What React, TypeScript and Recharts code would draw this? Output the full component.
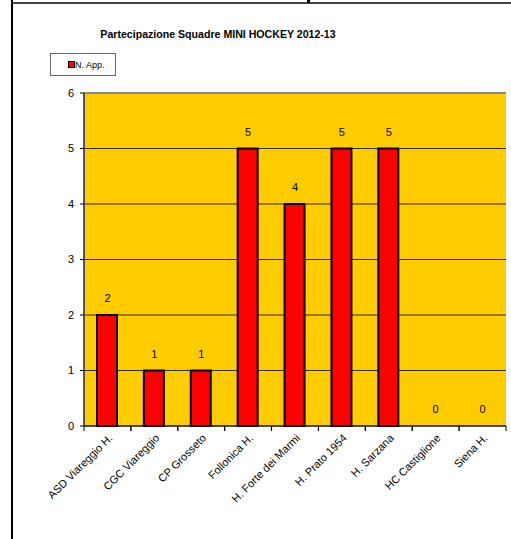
import React from 'react';
import { ComposedChart, Bar, Line, XAxis, YAxis, CartesianGrid, Legend, LabelList, ReferenceLine } from 'recharts';

const squadre = [
  'ASD Viareggio H.',
  'CGC Viareggio',
  'CP Grosseto',
  'Follonica H.',
  'H. Forte dei Marmi',
  'H. Prato 1954',
  'H. Sarzana',
  'HC Castiglione',
  'Siena H.',
];
const presenze = [2, 1, 1, 5, 4, 5, 5, 0, 0];
const yTicks = [0, 1, 2, 3, 4, 5, 6];

const data = squadre.map((name, i) => ({ name, app: presenze[i] }));

const FONT = '"Liberation Sans", Arial, sans-serif';
const HALF_BAND = (506 - 84) / squadre.length / 2;

const SquadraTick = (props: any) => {
  const { x, y, payload } = props;
  return (
    <g>
      <line x1={x - HALF_BAND} y1={y - 8} x2={x - HALF_BAND} y2={y - 3} stroke="#000" />
      <line x1={x + HALF_BAND} y1={y - 8} x2={x + HALF_BAND} y2={y - 3} stroke="#000" />
      <g transform={`translate(${x + 3},${y + 2})`}>
        <text transform="rotate(-45)" textAnchor="end" dy="0.35em" fontSize={11} fill="#000" fontFamily={FONT}>
          {payload.value}
        </text>
      </g>
    </g>
  );
};

const LegendBox = () => (
  <div
    style={{
      width: 66,
      height: 23,
      border: '1px solid #666',
      background: '#fff',
      display: 'flex',
      alignItems: 'center',
      paddingLeft: 17,
      boxSizing: 'border-box',
      fontFamily: FONT,
      fontSize: 9,
    }}
  >
    <span style={{ width: 5, height: 5, background: '#f00', border: '1px solid #000', display: 'inline-block' }} />
    <span>N. App.</span>
  </div>
);

export default function App() {
  return (
    <div style={{ position: 'absolute', left: 0, top: 0, width: 511, height: 539, background: '#fff' }}>
      <div style={{ position: 'absolute', left: 12, top: 2, width: 499, height: 2, background: '#444' }} />
      <div style={{ position: 'absolute', left: 11, top: 0, width: 2, height: 539, background: '#000' }} />
      <div style={{ position: 'absolute', left: 307, top: 0, width: 3, height: 3, background: '#000' }} />
      <div
        style={{
          position: 'absolute',
          left: 0,
          width: 436,
          top: 28,
          textAlign: 'center',
          fontFamily: FONT,
          fontWeight: 'bold',
          fontSize: 10.6,
        }}
      >
        Partecipazione Squadre MINI HOCKEY 2012-13
      </div>
      <ComposedChart
        width={511}
        height={539}
        data={data}
        margin={{ top: 93, right: 5, left: 44, bottom: 33 }}
        barCategoryGap={0}
      >
        <CartesianGrid fill="#FFCC00" vertical={false} stroke="#000" strokeOpacity={0.8} fillOpacity={1} />
        <XAxis
          dataKey="name"
          interval={0}
          height={80}
          tickLine={false}
          axisLine={{ stroke: '#000' }}
          tick={<SquadraTick />}
        />
        <YAxis
          domain={[0, 6]}
          ticks={yTicks}
          width={40}
          tickSize={4}
          tickMargin={6}
          axisLine={{ stroke: '#555', strokeWidth: 2 }}
          tickLine={{ stroke: '#000' }}
          tick={{ fontSize: 11, fill: '#000', fontFamily: FONT }}
        />
        <YAxis
          yAxisId="bordo"
          orientation="right"
          domain={[0, 6]}
          width={0}
          tick={false}
          tickLine={false}
          axisLine={{ stroke: '#888', strokeWidth: 2 }}
        />
        <ReferenceLine y={6} stroke="#888" strokeWidth={2} />
        <Legend
          verticalAlign="middle"
          align="center"
          content={<LegendBox />}
          wrapperStyle={{ position: 'absolute', left: 50, top: 53, width: 66 }}
        />
        <Bar dataKey="app" name="N. App." fill="#FF0000" stroke="#000" strokeWidth={2} barSize={20} isAnimationActive={false} />
        <Line
          dataKey="app"
          legendType="none"
          stroke="none"
          dot={false}
          activeDot={false}
          isAnimationActive={false}
        >
          <LabelList dataKey="app" position="top" offset={13} fontSize={11} fill="#000" fontFamily={FONT} />
        </Line>
      </ComposedChart>
    </div>
  );
}
